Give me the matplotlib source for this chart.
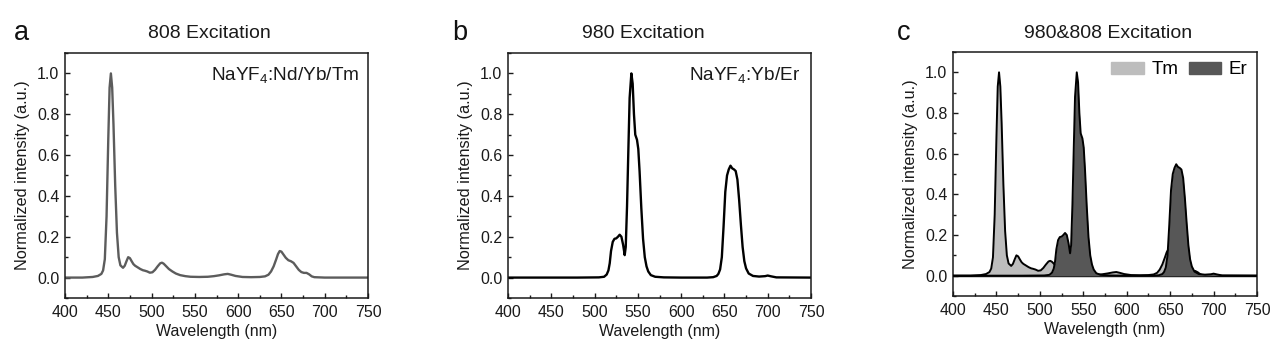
import matplotlib
matplotlib.use("Agg")
import matplotlib.pyplot as plt
from matplotlib.patches import Patch
from matplotlib.ticker import MultipleLocator

plt.rcParams['font.family'] = ['Liberation Sans', 'DejaVu Sans']
plt.rcParams['mathtext.fontset'] = 'custom'
plt.rcParams['mathtext.rm'] = 'Liberation Sans'

# Tm emission (808 nm excitation)
tm_wl = [400, 420, 432, 438, 442, 444, 446, 448, 450, 451.5, 453, 454.5, 456, 458,
         460, 462, 464, 467, 469, 471, 473, 475, 477, 479, 481, 484, 487, 490, 492,
         495, 498, 501, 504, 507, 510, 512, 514, 517, 520, 524, 528, 533, 539, 545,
         555, 565, 572, 578, 584, 588, 592, 597, 605, 615, 625, 631, 635, 638, 641,
         644, 646, 648, 650, 652, 655, 658, 661, 664, 667, 670, 673, 676, 679, 682,
         685, 688, 700, 750]
tm_int = [0.0, 0.0, 0.003, 0.008, 0.018, 0.035, 0.09, 0.3, 0.68, 0.93, 1.0, 0.93,
          0.75, 0.45, 0.22, 0.1, 0.06, 0.048, 0.058, 0.08, 0.1, 0.095, 0.08, 0.066,
          0.058, 0.05, 0.042, 0.036, 0.034, 0.03, 0.024, 0.026, 0.038, 0.055, 0.07,
          0.073, 0.068, 0.055, 0.042, 0.03, 0.02, 0.012, 0.007, 0.004, 0.003, 0.004,
          0.007, 0.011, 0.016, 0.018, 0.014, 0.008, 0.003, 0.002, 0.003, 0.006,
          0.014, 0.03, 0.055, 0.09, 0.115, 0.13, 0.127, 0.115, 0.097, 0.085, 0.08,
          0.072, 0.055, 0.038, 0.027, 0.023, 0.023, 0.016, 0.006, 0.002, 0.0, 0.0]

# Er emission (980 nm excitation)
er_wl = [400, 480, 505, 511, 514, 516, 517.5, 519, 521, 523, 525, 527, 529, 531,
         533, 534.8, 536, 537.5, 539, 540.5, 542.5, 544, 545.5, 547, 549, 550.5,
         552, 554, 556, 558, 560, 562, 565, 570, 580, 600, 630, 637, 641, 643, 645,
         647, 649, 651, 653, 655, 657, 659, 661, 663, 665, 667, 669, 671, 673, 675,
         678, 683, 690, 697, 700, 704, 710, 750]
er_int = [0.0, 0.0, 0.001, 0.004, 0.015, 0.035, 0.07, 0.13, 0.175, 0.19, 0.192,
          0.2, 0.21, 0.2, 0.16, 0.11, 0.15, 0.35, 0.62, 0.88, 1.0, 0.95, 0.8, 0.7,
          0.675, 0.63, 0.52, 0.34, 0.19, 0.1, 0.055, 0.03, 0.012, 0.004, 0.001,
          0.0, 0.0, 0.002, 0.008, 0.018, 0.04, 0.1, 0.25, 0.42, 0.5, 0.53, 0.548,
          0.535, 0.53, 0.522, 0.48, 0.38, 0.26, 0.15, 0.08, 0.045, 0.02, 0.008,
          0.005, 0.007, 0.01, 0.006, 0.001, 0.0]

x_ticks = [400, 450, 500, 550, 600, 650, 700, 750]
y_ticks = [0.0, 0.2, 0.4, 0.6, 0.8, 1.0]

W, H = 1286, 363
fig = plt.figure(figsize=(W / 100, H / 100), dpi=100)


def px_axes(left, top, right, bottom):
    return fig.add_axes([left / W, 1 - bottom / H, (right - left) / W, (bottom - top) / H])


def style(ax):
    ax.set_xlim(400, 750)
    ax.set_ylim(-0.1, 1.1)
    ax.set_xticks(x_ticks)
    ax.set_yticks(y_ticks)
    ax.xaxis.set_minor_locator(MultipleLocator(25))
    ax.yaxis.set_minor_locator(MultipleLocator(0.1))
    ax.yaxis.set_major_formatter(matplotlib.ticker.FormatStrFormatter('%.1f'))
    ax.tick_params(which='both', direction='in', labelsize=11.5, width=1.0, colors='#1a1a1a')
    ax.tick_params(which='major', length=3.5)
    ax.tick_params(which='minor', length=2)
    ax.tick_params(axis='x', pad=5)
    ax.tick_params(axis='y', pad=4)
    for s in ax.spines.values():
        s.set_linewidth(1.1)
        s.set_color('#1a1a1a')
    ax.set_xlabel('Wavelength (nm)', fontsize=11.5, labelpad=3, color='#1a1a1a')
    ax.set_ylabel('Normalized intensity (a.u.)', fontsize=11.7, labelpad=5, color='#1a1a1a')


# panel a
ax1 = px_axes(65, 53, 368, 298)
ax1.plot(tm_wl, tm_int, color='#5c5c5c', lw=1.7)
style(ax1)
ax1.text(0.97, 0.95, r'NaYF$_4$:Nd/Yb/Tm', transform=ax1.transAxes, ha='right', va='top',
         fontsize=13.7, color='#1a1a1a')

# panel b
ax2 = px_axes(508, 53, 811, 298)
ax2.plot(er_wl, er_int, color='black', lw=1.7)
style(ax2)
ax2.text(0.965, 0.95, r'NaYF$_4$:Yb/Er', transform=ax2.transAxes, ha='right', va='top',
         fontsize=13.7, color='#1a1a1a')

# panel c
ax3 = px_axes(953, 52, 1257, 296)
ax3.axhline(0, color='black', lw=1.0, zorder=1)
ax3.fill_between(tm_wl, 0, tm_int, color='#bdbdbd', lw=0, zorder=2)
ax3.plot(tm_wl, tm_int, color='black', lw=1.4, zorder=3)
ax3.fill_between(er_wl, 0, er_int, color='#575757', lw=0, zorder=4)
ax3.plot(er_wl, er_int, color='black', lw=1.4, zorder=5)
style(ax3)
handles = [Patch(color='#bdbdbd', label='Tm'), Patch(color='#575757', label='Er')]
ax3.legend(handles=handles, loc='upper right', ncol=2, frameon=False, fontsize=13.5,
           handlelength=1.75, handleheight=0.65, handletextpad=0.4, columnspacing=0.55,
           borderaxespad=0.1, bbox_to_anchor=(1.0, 1.0))

# titles and panel letters
for x, t in [(209, '808 Excitation'), (643, '980 Excitation'), (1108, '980&808 Excitation')]:
    fig.text(x / W, 1 - 38 / H, t, ha='center', va='baseline', fontsize=14, color='#1a1a1a')
for x, t in [(14, 'a'), (452, 'b'), (897, 'c')]:
    fig.text(x / W, 1 - 40 / H, t, ha='left', va='baseline', fontsize=19.5, color='#111111')

fig.savefig('out.png', dpi=100)
